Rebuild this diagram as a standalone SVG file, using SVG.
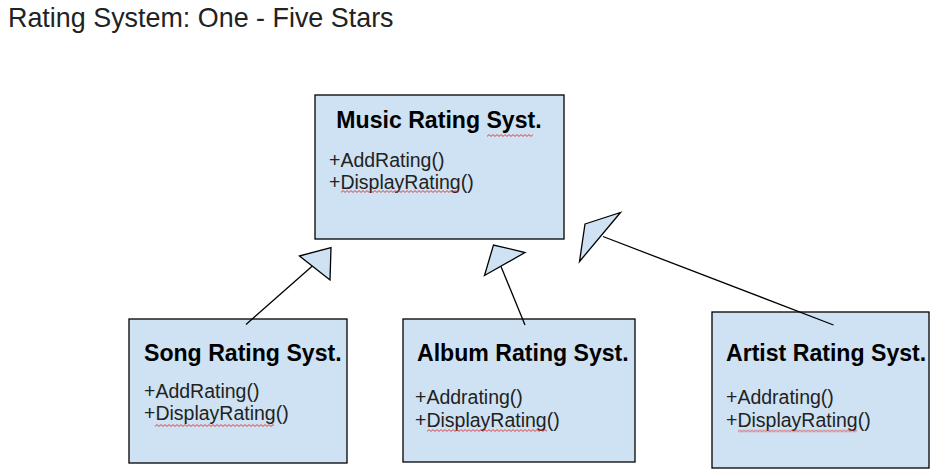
<svg xmlns="http://www.w3.org/2000/svg" width="943" height="475" viewBox="0 0 943 475">
<style>
.box{fill:#cfe2f3;stroke:#000;stroke-width:1.3}
.tri{fill:#cfe2f3;stroke:#000;stroke-width:1.3;stroke-linejoin:miter}
.ttl{font-family:"Liberation Sans",Arial,sans-serif;font-weight:bold;font-size:23.1px;fill:#000}
.mth{font-family:"Liberation Sans",Arial,sans-serif;font-size:19.5px;fill:#222}
.hdr{font-family:"Liberation Sans",Arial,sans-serif;font-size:26.9px;fill:#222}
.ln{stroke:#000;stroke-width:1.3;fill:none}
.sq{fill:url(#squig)}
</style>
<defs>
<pattern id="squig" width="4" height="3" patternUnits="userSpaceOnUse">
<path d="M0,2.4 L2,0.6 L4,2.4" fill="none" stroke="#e03030" stroke-width="0.9"/>
</pattern>
</defs>
<rect width="943" height="475" fill="#fff"/>
<text class="hdr" x="8" y="27">Rating System: One - Five Stars</text>

<g id="music">
<rect class="box" x="315" y="95" width="249" height="144"/>
<text class="ttl" x="439" y="128" text-anchor="middle">Music Rating Syst.</text>
<text class="mth" x="329" y="166.5">+AddRating()</text>
<text class="mth" x="329" y="188.5">+DisplayRating()</text>
<g transform="translate(487,134)"><rect class="sq" width="46" height="3"/></g>
<g transform="translate(341,190)"><rect class="sq" width="118" height="3"/></g>
</g>

<g id="song">
<rect class="box" x="129" y="319" width="218" height="144"/>
<text class="ttl" x="144" y="361">Song Rating Syst.</text>
<text class="mth" x="144" y="397.5">+AddRating()</text>
<text class="mth" x="144" y="420">+DisplayRating()</text>
<g transform="translate(155,424)"><rect class="sq" width="119" height="3"/></g>
</g>

<g id="album">
<rect class="box" x="403" y="319" width="232" height="143"/>
<text class="ttl" x="417" y="360.5">Album Rating Syst.</text>
<text class="mth" x="415" y="404">+Addrating()</text>
<text class="mth" x="415" y="426.5">+DisplayRating()</text>
<g transform="translate(427,429)"><rect class="sq" width="120" height="3"/></g>
</g>

<g id="artist">
<rect class="box" x="712" y="312" width="217" height="156"/>
<text class="ttl" x="726" y="361">Artist Rating Syst.</text>
<text class="mth" x="726" y="404">+Addrating()</text>
<text class="mth" x="726" y="426.5">+DisplayRating()</text>
<g transform="translate(738,429.5)"><rect class="sq" width="119" height="3"/></g>
</g>

<g id="connectors">
<line class="ln" x1="246" y1="324.5" x2="313.5" y2="265"/>
<polygon class="tri" points="299.5,256 331,247.5 330,280"/>
<line class="ln" x1="525" y1="325" x2="501" y2="266.5"/>
<polygon class="tri" points="484.5,275.5 493.5,245 525,252.5"/>
<line class="ln" x1="833.5" y1="325" x2="603" y2="236.5"/>
<polygon class="tri" points="585,224 620.5,212.5 579.5,261.5"/>
</g>
</svg>
